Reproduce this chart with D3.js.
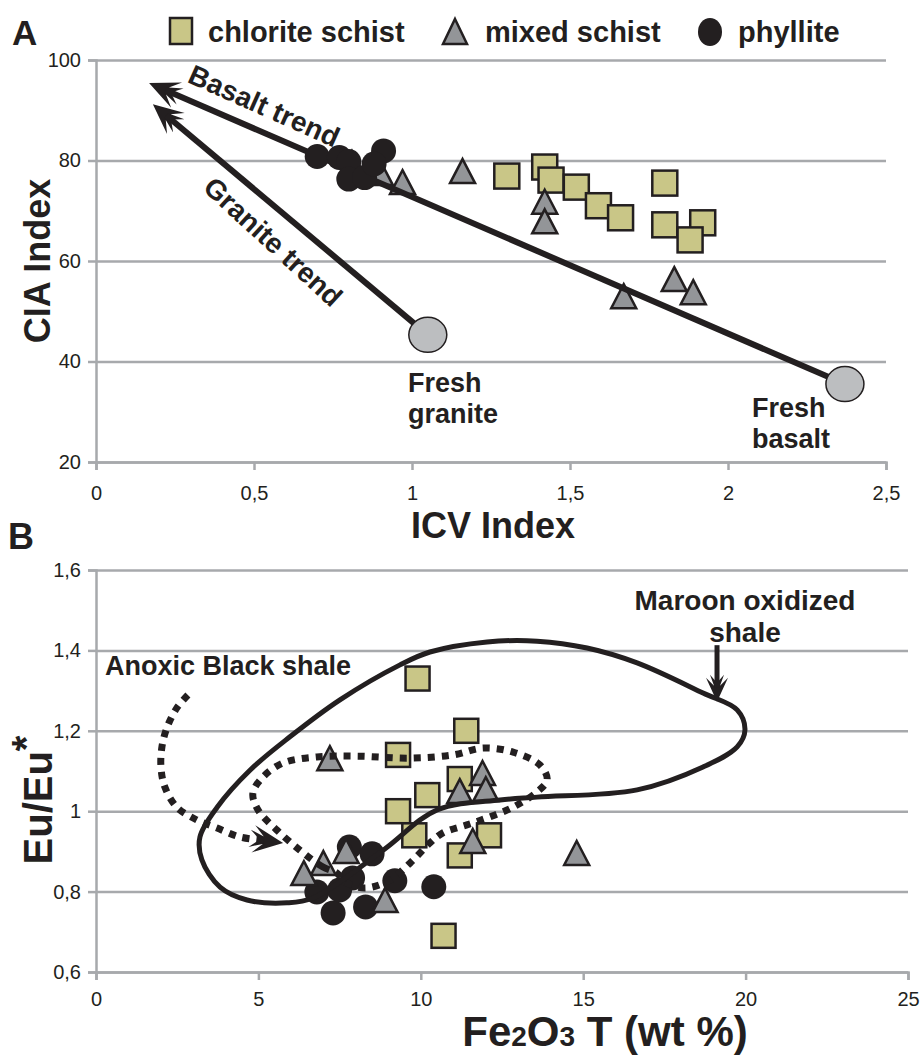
<!DOCTYPE html>
<html>
<head>
<meta charset="utf-8">
<script src="https://cdn.jsdelivr.net/npm/d3@7"></script>
<style>
  body { margin: 0; background: #fff; }
  svg text { fill: #231f20; }
  .tick text { font-family: "Liberation Sans Narrow", "Liberation Sans", Arial, sans-serif; font-size: 20px; }
  .bold { font-family: "Liberation Sans", Arial, sans-serif; font-weight: bold; }
</style>
</head>
<body>
<div id="viz"></div>
<script>
// panel A: ICV vs CIA
const chloriteA = [[1.30, 76.9], [1.42, 78.7], [1.44, 76.1], [1.52, 74.7], [1.59, 71.0], [1.66, 68.6], [1.80, 75.5], [1.80, 67.2], [1.92, 67.6], [1.88, 64.2]];
const mixedA = [[0.81, 79.1], [0.90, 77.1], [0.97, 75.3], [1.16, 77.5], [1.42, 71.4], [1.42, 67.5], [1.67, 52.6], [1.83, 56.0], [1.89, 53.4]];
const phylliteA = [[0.70, 80.8], [0.77, 80.6], [0.80, 79.8], [0.80, 76.3], [0.85, 76.6], [0.91, 81.9], [0.88, 79.3]];
const freshRocks = [[1.05, 45.3], [2.37, 35.5]];
const basaltTrend = [[2.37, 35.5], [0.168, 95.4]];
const graniteTrend = [[1.05, 45.3], [0.18, 91.2]];
const ticksAx = [0, 0.5, 1, 1.5, 2, 2.5];
const ticksAy = [20, 40, 60, 80, 100];

// panel B: Fe2O3 vs Eu/Eu*
const chloriteB = [[9.9, 1.33], [11.4, 1.20], [9.3, 1.14], [11.2, 1.08], [10.2, 1.04], [9.3, 1.00], [9.8, 0.94], [12.1, 0.94], [11.2, 0.89], [10.7, 0.69]];
const mixedB = [[7.2, 1.127], [11.9, 1.09], [12.0, 1.05], [11.2, 1.045], [11.6, 0.921], [7.7, 0.896], [7.0, 0.866], [6.4, 0.841], [8.9, 0.774], [14.8, 0.891]];
const phylliteB = [[7.8, 0.911], [8.5, 0.894], [6.8, 0.799], [7.3, 0.747], [7.9, 0.834], [7.5, 0.804], [8.3, 0.762], [9.2, 0.827], [10.4, 0.812]];
const maroonField = [[19.98, 1.202], [19.74, 1.252], [18.69, 1.294], [16.66, 1.369], [15.12, 1.406], [13.58, 1.423], [12.04, 1.421], [10.28, 1.396], [9.36, 1.364], [7.51, 1.277], [5.97, 1.185], [4.74, 1.102], [3.73, 1.010], [3.20, 0.936], [3.26, 0.879], [3.82, 0.811], [4.65, 0.779], [5.88, 0.772], [6.68, 0.784], [8.84, 0.903], [10.50, 1.003], [12.44, 1.028], [13.58, 1.035], [16.66, 1.053], [18.69, 1.110], [19.74, 1.160]];
const anoxicField = [[7.42, 0.846], [6.99, 0.861], [6.28, 0.903], [5.57, 0.953], [4.99, 1.003], [4.83, 1.045], [5.14, 1.085], [5.76, 1.120], [6.80, 1.135], [8.04, 1.137], [9.67, 1.132], [10.99, 1.140], [11.92, 1.157], [12.84, 1.147], [13.67, 1.115], [13.89, 1.078], [13.58, 1.048], [12.84, 1.010], [12.13, 0.986], [11.42, 0.966], [10.68, 0.946], [10.28, 0.921], [9.67, 0.871], [9.05, 0.829], [8.28, 0.809], [7.67, 0.824]];
const anoxicArrow = [[2.83, 1.289], [2.49, 1.257], [2.19, 1.209], [2.03, 1.160], [2.00, 1.110], [2.12, 1.060], [2.49, 1.010], [3.11, 0.978], [3.73, 0.958], [4.43, 0.936], [5.76, 0.921]];
const maroonArrow = [[19.12, 1.413], [19.12, 1.272]];
const ticksBx = [0, 5, 10, 15, 20, 25];
const ticksBy = [0.6, 0.8, 1, 1.2, 1.4, 1.6];

document.addEventListener("DOMContentLoaded", () => {
    const width = 921;
    const height = 1061;
    const ink = '#231f20';
    const grid = '#a7a9ac';
    const comma = d => String(d).replace('.', ',');

    const svg = d3.select('#viz').append('svg')
        .attr('width', width)
        .attr('height', height);

    const xA = d3.scaleLinear().domain([0, 2.5]).range([96, 886]);
    const yA = d3.scaleLinear().domain([20, 100]).range([462, 60]);
    const xB = d3.scaleLinear().domain([0, 25]).range([96, 908]);
    const yB = d3.scaleLinear().domain([0.6, 1.6]).range([972, 570]);

    function drawAxes(x, y, xt, yt, xPad) {
        const g = svg.append('g');
        const w = x.range()[1] - x.range()[0];
        g.append('g')
            .attr('transform', `translate(${x.range()[0]},0)`)
            .call(d3.axisLeft(y).tickValues(yt).tickSize(-w).tickFormat(''))
            .call(a => a.select('.domain').remove())
            .call(a => a.selectAll('line').attr('stroke', grid).attr('stroke-width', 2.5));
        g.append('g')
            .attr('transform', `translate(${x.range()[0]},0)`)
            .call(d3.axisLeft(y).tickValues(yt).tickSize(8).tickPadding(7).tickFormat(comma))
            .call(a => a.selectAll('line, .domain').attr('stroke', grid).attr('stroke-width', 2.5));
        g.append('g')
            .attr('transform', `translate(0,${y.range()[0]})`)
            .call(d3.axisBottom(x).tickValues(xt).tickSize(8).tickPadding(xPad).tickFormat(comma))
            .call(a => a.selectAll('line, .domain').attr('stroke', grid).attr('stroke-width', 2.5));
        g.selectAll('.tick text').attr('fill', ink).attr('font-family', null).attr('font-size', null);
    }

    const triPath = 'M0,-14L12.5,10L-12.5,10Z';
    const headPath = 'M0,0L-24,-11L-16,-3L-27,-7L-19,0L-27,7L-16,3L-24,11Z';

    function squares(data, x, y, s) {
        svg.append('g').selectAll('rect')
            .data(data)
            .enter()
            .append('rect')
            .attr('x', d => x(d[0]) - s / 2)
            .attr('y', d => y(d[1]) - s / 2)
            .attr('width', s)
            .attr('height', s)
            .attr('fill', '#c9c687')
            .attr('stroke', ink)
            .attr('stroke-width', 2.5);
    }

    function triangles(data, x, y) {
        svg.append('g').selectAll('path')
            .data(data)
            .enter()
            .append('path')
            .attr('d', triPath)
            .attr('transform', d => `translate(${x(d[0])},${y(d[1])})`)
            .attr('fill', '#939598')
            .attr('stroke', ink)
            .attr('stroke-width', 2.5);
    }

    function dots(data, x, y, r) {
        svg.append('g').selectAll('circle')
            .data(data)
            .enter()
            .append('circle')
            .attr('cx', d => x(d[0]))
            .attr('cy', d => y(d[1]))
            .attr('r', r)
            .attr('fill', ink);
    }

    // arrowhead at the last point of a pixel path, returns the shortened path
    function arrowHead(pts, scale) {
        const n = pts.length;
        const [x1, y1] = pts[n - 2];
        const [x2, y2] = pts[n - 1];
        const ang = Math.atan2(y2 - y1, x2 - x1);
        svg.append('path')
            .attr('d', headPath)
            .attr('fill', ink)
            .attr('transform', `translate(${x2},${y2}) rotate(${ang * 180 / Math.PI}) scale(${scale})`);
        const cut = 14 * scale;
        const out = pts.slice();
        out[n - 1] = [x2 - cut * Math.cos(ang), y2 - cut * Math.sin(ang)];
        return out;
    }

    // ---------- panel A ----------
    drawAxes(xA, yA, ticksAx, ticksAy, 16);
    squares(chloriteA, xA, yA, 25);
    triangles(mixedA, xA, yA);

    [basaltTrend, graniteTrend].forEach(t => {
        const px = arrowHead(t.map(d => [xA(d[0]), yA(d[1])]), 1.25);
        svg.append('path')
            .attr('d', d3.line()(px))
            .attr('fill', 'none')
            .attr('stroke', ink)
            .attr('stroke-width', 6);
    });

    dots(phylliteA, xA, yA, 12.5);

    svg.append('g').selectAll('ellipse')
        .data(freshRocks)
        .enter()
        .append('ellipse')
        .attr('cx', d => xA(d[0]))
        .attr('cy', d => yA(d[1]))
        .attr('rx', 19)
        .attr('ry', 17.5)
        .attr('fill', '#bcbec0')
        .attr('stroke', ink)
        .attr('stroke-width', 1.5);

    svg.append('text').attr('class', 'bold')
        .attr('transform', 'translate(264,106) rotate(24)')
        .attr('text-anchor', 'middle').attr('dominant-baseline', 'central')
        .attr('font-size', 28).text('Basalt trend');
    svg.append('text').attr('class', 'bold')
        .attr('transform', 'translate(273,242) rotate(42.5)')
        .attr('text-anchor', 'middle').attr('dominant-baseline', 'central')
        .attr('font-size', 28).text('Granite trend');

    const freshLabels = [['Fresh', 408, 392], ['granite', 408, 423], ['Fresh', 752, 417], ['basalt', 752, 448]];
    svg.append('g').selectAll('text')
        .data(freshLabels)
        .enter()
        .append('text')
        .attr('class', 'bold')
        .attr('x', d => d[1])
        .attr('y', d => d[2])
        .attr('font-size', 27)
        .text(d => d[0]);

    // legend
    const legend = svg.append('g');
    legend.append('rect').attr('x', 170).attr('y', 18).attr('width', 22).attr('height', 26)
        .attr('fill', '#c9c687').attr('stroke', ink).attr('stroke-width', 2.5);
    legend.append('path').attr('d', 'M455,19L467,44L443,44Z')
        .attr('fill', '#939598').attr('stroke', ink).attr('stroke-width', 2.5);
    legend.append('ellipse').attr('cx', 710).attr('cy', 32).attr('rx', 12).attr('ry', 14).attr('fill', ink);
    [['chlorite schist', 208], ['mixed schist', 485], ['phyllite', 738]].forEach(l => {
        legend.append('text').attr('class', 'bold').attr('x', l[1]).attr('y', 42)
            .attr('font-size', 29).text(l[0]);
    });

    svg.append('text').attr('class', 'bold').attr('x', 12).attr('y', 45).attr('font-size', 35).text('A');
    svg.append('text').attr('class', 'bold')
        .attr('transform', 'translate(50,261) rotate(-90)')
        .attr('text-anchor', 'middle').attr('font-size', 36).text('CIA Index');
    svg.append('text').attr('class', 'bold')
        .attr('x', 493).attr('y', 538)
        .attr('text-anchor', 'middle').attr('font-size', 36).text('ICV Index');

    // ---------- panel B ----------
    drawAxes(xB, yB, ticksBx, ticksBy, 12);
    dots(phylliteB, xB, yB, 12.5);
    squares(chloriteB, xB, yB, 24);
    triangles(mixedB, xB, yB);

    const lineB = d3.line().x(d => xB(d[0])).y(d => yB(d[1]));

    svg.append('path')
        .attr('d', lineB.curve(d3.curveCatmullRomClosed.alpha(0.5))(maroonField))
        .attr('fill', 'none')
        .attr('stroke', ink)
        .attr('stroke-width', 5);

    svg.append('path')
        .attr('d', lineB.curve(d3.curveCatmullRomClosed.alpha(0.5))(anoxicField))
        .attr('fill', 'none')
        .attr('stroke', ink)
        .attr('stroke-width', 7)
        .attr('stroke-dasharray', '7,7');

    const anoxicPx = arrowHead(anoxicArrow.map(d => [xB(d[0]), yB(d[1])]), 1.25);
    svg.append('path')
        .attr('d', d3.line().curve(d3.curveCatmullRom.alpha(0.5))(anoxicPx))
        .attr('fill', 'none')
        .attr('stroke', ink)
        .attr('stroke-width', 7)
        .attr('stroke-dasharray', '7,7');

    const maroonPx = arrowHead(maroonArrow.map(d => [xB(d[0]), yB(d[1])]), 1.0);
    svg.append('path')
        .attr('d', d3.line()(maroonPx))
        .attr('stroke', ink)
        .attr('stroke-width', 5);

    svg.append('text').attr('class', 'bold').attr('x', 745).attr('y', 610)
        .attr('text-anchor', 'middle').attr('font-size', 28).text('Maroon oxidized');
    svg.append('text').attr('class', 'bold').attr('x', 745).attr('y', 642)
        .attr('text-anchor', 'middle').attr('font-size', 28).text('shale');
    svg.append('text').attr('class', 'bold').attr('x', 105).attr('y', 675)
        .attr('font-size', 27).text('Anoxic Black shale');

    svg.append('text').attr('class', 'bold').attr('x', 8).attr('y', 549).attr('font-size', 36).text('B');

    const euTitle = svg.append('text').attr('class', 'bold')
        .attr('transform', 'translate(52,800) rotate(-90)')
        .attr('text-anchor', 'middle').attr('font-size', 40);
    euTitle.append('tspan').text('Eu/Eu');
    euTitle.append('tspan').attr('dy', -12).text('*');

    const feTitle = svg.append('text').attr('class', 'bold')
        .attr('x', 605).attr('y', 1046)
        .attr('text-anchor', 'middle').attr('font-size', 42);
    feTitle.append('tspan').text('Fe');
    feTitle.append('tspan').attr('font-size', 28).text('2');
    feTitle.append('tspan').text('O');
    feTitle.append('tspan').attr('font-size', 28).text('3');
    feTitle.append('tspan').text(' T (wt %)');
});
</script>
</body>
</html>
